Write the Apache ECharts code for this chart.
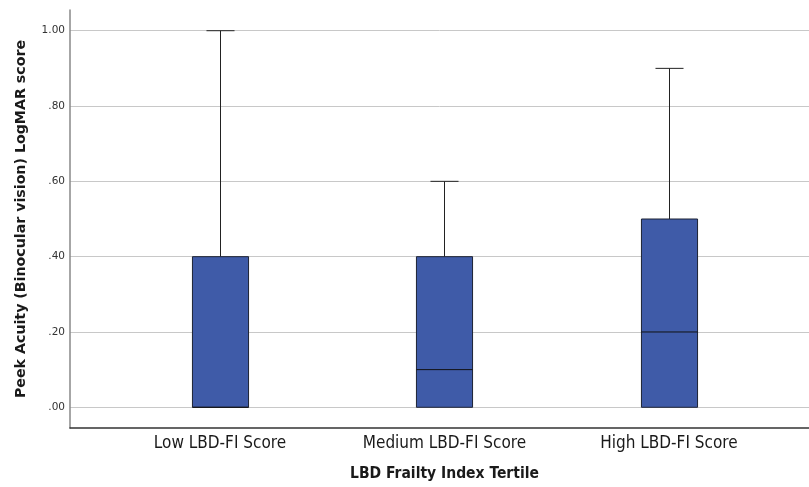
<!DOCTYPE html>
<html>
<head>
<meta charset="utf-8">
<script src="https://cdn.jsdelivr.net/npm/echarts@6/dist/echarts.min.js"></script>
<style>
  html, body { margin: 0; padding: 0; background: #fff; }
  #chart { width: 809px; height: 487px; }
</style>
</head>
<body>
<div id="chart"></div>
<script>
// Box plot summaries per frailty tertile
const categories = ['Low LBD-FI Score', 'Medium LBD-FI Score', 'High LBD-FI Score'];
const whiskerLow = [0.00, 0.00, 0.00];
const quartile1 = [0.00, 0.00, 0.00];
const medians = [0.00, 0.10, 0.20];
const quartile3 = [0.40, 0.40, 0.50];
const whiskerHigh = [1.00, 0.60, 0.90];
const yTicks = [0, 0.2, 0.4, 0.6, 0.8, 1.0];

const boxData = categories.map((c, i) => [i, whiskerLow[i], quartile1[i], medians[i], quartile3[i], whiskerHigh[i]]);

function fmtTick(v) {
  const s = Number(v).toFixed(2);
  return s.startsWith('0.') ? s.slice(1) : s;
}

const chart = echarts.init(document.getElementById('chart'), null, { renderer: 'canvas' });

chart.setOption({
  animation: false,
  backgroundColor: '#ffffff',
  grid: { left: 70, right: 0, top: 10, bottom: 59 },
  xAxis: {
    type: 'value',
    min: -0.668,
    max: 2.624,
    name: 'LBD Frailty Index Tertile',
    nameLocation: 'middle',
    nameGap: 38,
    nameTextStyle: {
      fontFamily: 'DejaVu Sans Condensed', fontSize: 15.5, fontWeight: 'bold', color: '#1a1a1a',
      padding: [0, 0, 0, 10]
    },
    axisLine: { show: true, onZero: false, lineStyle: { color: '#333', width: 1.5 } },
    axisTick: { show: false, customValues: [0, 1, 2] },
    splitLine: { show: false },
    axisLabel: {
      customValues: [0, 1, 2],
      formatter: v => categories[Math.round(v)] || '',
      fontFamily: 'DejaVu Sans Condensed',
      fontSize: 17,
      color: '#1a1a1a',
      margin: 7
    }
  },
  yAxis: {
    type: 'value',
    min: -0.055,
    max: 1.055,
    name: 'Peek Acuity (Binocular vision) LogMAR score',
    nameLocation: 'middle',
    nameGap: 42,
    nameTextStyle: { fontFamily: 'DejaVu Sans', fontSize: 14.2, fontWeight: 'bold', color: '#1a1a1a' },
    axisLine: { show: true, onZero: false, lineStyle: { color: '#888', width: 1.5 } },
    axisTick: { show: false, customValues: yTicks },
    axisLabel: {
      customValues: yTicks,
      formatter: fmtTick,
      fontFamily: 'DejaVu Sans',
      fontSize: 10.5,
      color: '#333',
      margin: 5
    },
    splitLine: { show: true, lineStyle: { color: '#c8c8c8', width: 1 } }
  },
  series: [{
    type: 'custom',
    data: boxData,
    encode: { x: 0, y: [1, 2, 3, 4, 5] },
    renderItem: function (params, api) {
      const idx = api.value(0);
      const unit = api.size([1, 0])[0];
      const half = unit * 0.125;
      const capHalf = half / 2;
      const pLow = api.coord([idx, api.value(1)]);
      const pQ1 = api.coord([idx, api.value(2)]);
      const pMed = api.coord([idx, api.value(3)]);
      const pQ3 = api.coord([idx, api.value(4)]);
      const pHigh = api.coord([idx, api.value(5)]);
      const cx = Math.round(pQ1[0]) + 0.5;
      const lineStyle = { stroke: '#222', lineWidth: 1 };
      const children = [];
      // upper whisker
      if (api.value(5) > api.value(4)) {
        children.push(
          { type: 'line', shape: { x1: cx, y1: pHigh[1], x2: cx, y2: pQ3[1] }, style: lineStyle },
          { type: 'line', shape: { x1: cx - capHalf, y1: pHigh[1], x2: cx + capHalf, y2: pHigh[1] }, style: lineStyle }
        );
      }
      // lower whisker
      if (api.value(1) < api.value(2)) {
        children.push(
          { type: 'line', shape: { x1: cx, y1: pLow[1], x2: cx, y2: pQ1[1] }, style: lineStyle },
          { type: 'line', shape: { x1: cx - capHalf, y1: pLow[1], x2: cx + capHalf, y2: pLow[1] }, style: lineStyle }
        );
      }
      children.push(
        {
          type: 'rect',
          shape: { x: cx - half, y: pQ3[1], width: half * 2, height: pQ1[1] - pQ3[1] },
          style: { fill: '#3f5ba8', stroke: '#1c2233', lineWidth: 1 }
        },
        { type: 'line', shape: { x1: cx - half, y1: pMed[1], x2: cx + half, y2: pMed[1] }, style: { stroke: '#111', lineWidth: 1 } }
      );
      return { type: 'group', children: children };
    }
  }]
});
</script>
</body>
</html>
